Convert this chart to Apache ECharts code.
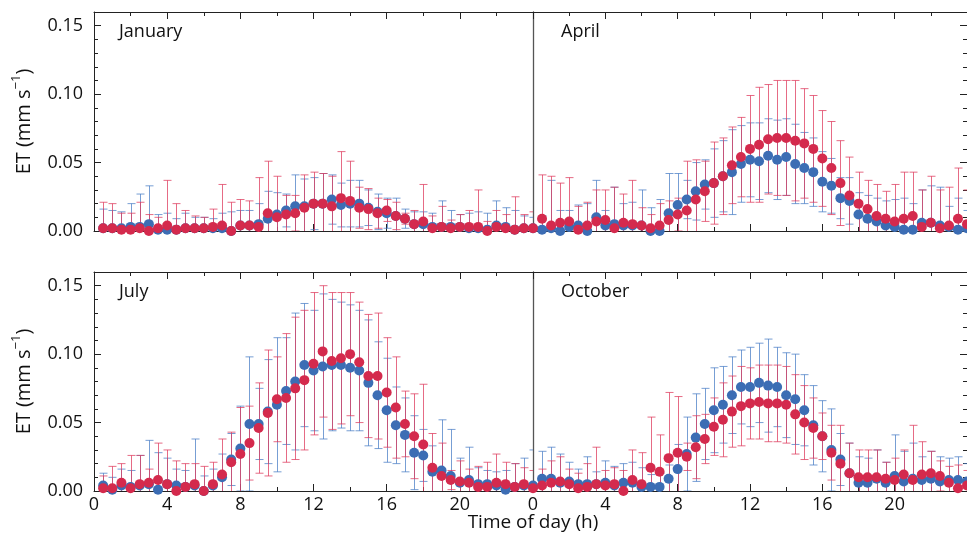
<!DOCTYPE html>
<html>
<head>
<meta charset="utf-8">
<script src="https://cdn.jsdelivr.net/npm/echarts@6/dist/echarts.min.js"></script>
<style>
  html, body { margin: 0; padding: 0; background: #fff; }
  #chart { width: 967px; height: 539px; }
</style>
</head>
<body>
<div id="chart"></div>
<script>
// Half-hourly time stamps (h)
const hours = [0.5, 1, 1.5, 2, 2.5, 3, 3.5, 4, 4.5, 5, 5.5, 6, 6.5, 7, 7.5, 8,
  8.5, 9, 9.5, 10, 10.5, 11, 11.5, 12, 12.5, 13, 13.5, 14, 14.5, 15, 15.5, 16,
  16.5, 17, 17.5, 18, 18.5, 19, 19.5, 20, 20.5, 21, 21.5, 22, 22.5, 23, 23.5, 24];

const xTicks = [0, 4, 8, 12, 16, 20];
const yTicks = [0.00, 0.05, 0.10, 0.15];

// January
const janBlueMean = [0.002,0.002,0.002,0.003,0.003,0.005,0.001,0.001,0.001,0.002,0.002,0.002,0.002,0.002,0.000,0.004,
  0.004,0.005,0.009,0.012,0.015,0.018,0.018,0.020,0.020,0.023,0.019,0.020,0.020,0.017,0.014,0.013,
  0.011,0.009,0.005,0.005,0.003,0.003,0.003,0.003,0.002,0.002,0.001,0.004,0.003,0.001,0.002,0.002];
const janBlueSd = [0.014,0.013,0.012,0.017,0.024,0.028,0.011,0.012,0.008,0.011,0.008,0.008,0.007,0.011,0.014,0.011,
  0.011,0.015,0.020,0.016,0.012,0.023,0.020,0.019,0.022,0.018,0.016,0.017,0.017,0.013,0.013,0.011,
  0.013,0.007,0.009,0.009,0.010,0.019,0.012,0.009,0.011,0.012,0.012,0.018,0.014,0.014,0.009,0.008];
const janRedMean = [0.002,0.002,0.001,0.001,0.002,0.000,0.002,0.004,0.001,0.002,0.002,0.002,0.003,0.004,0.000,0.004,
  0.004,0.003,0.013,0.010,0.012,0.013,0.017,0.020,0.020,0.018,0.024,0.022,0.017,0.016,0.013,0.015,
  0.011,0.009,0.005,0.007,0.002,0.003,0.002,0.003,0.003,0.003,0.000,0.003,0.002,0.001,0.002,0.002];
const janRedSd = [0.019,0.018,0.012,0.012,0.019,0.012,0.008,0.033,0.019,0.013,0.009,0.008,0.013,0.030,0.021,0.019,
  0.018,0.036,0.038,0.030,0.014,0.013,0.024,0.023,0.022,0.022,0.034,0.029,0.015,0.015,0.011,0.008,
  0.010,0.004,0.010,0.027,0.009,0.015,0.006,0.009,0.012,0.027,0.007,0.012,0.010,0.024,0.010,0.012];

// April
const aprBlueMean = [0.001,0.002,0.000,0.003,0.004,0.000,0.010,0.004,0.005,0.004,0.004,0.004,0.000,0.000,0.013,0.019,
  0.023,0.029,0.034,0.035,0.040,0.043,0.049,0.052,0.051,0.055,0.052,0.054,0.049,0.046,0.043,0.036,
  0.033,0.024,0.022,0.012,0.009,0.007,0.004,0.003,0.001,0.001,0.006,0.006,0.004,0.003,0.001,0.002];
const aprBlueSd = [0.010,0.035,0.015,0.012,0.015,0.020,0.027,0.011,0.027,0.016,0.017,0.026,0.017,0.023,0.029,0.023,
  0.014,0.021,0.018,0.025,0.026,0.031,0.028,0.027,0.028,0.027,0.029,0.028,0.029,0.026,0.025,0.022,
  0.020,0.015,0.017,0.016,0.017,0.017,0.018,0.020,0.023,0.019,0.024,0.027,0.028,0.015,0.023,0.013];
const aprRedMean = [0.009,0.004,0.006,0.007,0.001,0.004,0.007,0.008,0.002,0.006,0.005,0.004,0.002,0.004,0.008,0.012,
  0.015,0.023,0.029,0.035,0.040,0.048,0.054,0.060,0.063,0.067,0.068,0.068,0.066,0.064,0.060,0.053,
  0.046,0.035,0.026,0.020,0.016,0.011,0.009,0.007,0.009,0.011,0.003,0.006,0.002,0.004,0.009,0.005];
const aprRedSd = [0.032,0.036,0.029,0.032,0.017,0.017,0.023,0.022,0.030,0.021,0.032,0.013,0.010,0.016,0.014,0.012,
  0.036,0.029,0.022,0.030,0.028,0.028,0.029,0.039,0.042,0.040,0.042,0.042,0.044,0.040,0.039,0.035,
  0.034,0.031,0.028,0.023,0.021,0.023,0.020,0.027,0.034,0.032,0.027,0.034,0.028,0.028,0.037,0.025];

// July
const julBlueMean = [0.004,0.001,0.004,0.003,0.004,0.005,0.001,0.005,0.004,0.003,0.004,0.000,0.004,0.010,0.023,0.031,
  0.049,0.049,0.058,0.063,0.073,0.080,0.092,0.088,0.091,0.092,0.092,0.090,0.088,0.079,0.070,0.059,
  0.048,0.041,0.028,0.026,0.014,0.015,0.011,0.006,0.008,0.005,0.005,0.004,0.001,0.003,0.004,0.004];
const julBlueSd = [0.009,0.009,0.012,0.012,0.022,0.032,0.027,0.019,0.012,0.012,0.034,0.011,0.012,0.017,0.019,0.031,
  0.049,0.026,0.038,0.049,0.039,0.050,0.045,0.044,0.053,0.048,0.046,0.046,0.044,0.046,0.039,0.038,
  0.028,0.027,0.027,0.019,0.019,0.037,0.034,0.018,0.024,0.012,0.010,0.010,0.014,0.017,0.020,0.026];
const julRedMean = [0.002,0.002,0.006,0.002,0.005,0.006,0.008,0.005,0.000,0.003,0.005,0.000,0.005,0.012,0.021,0.027,
  0.035,0.046,0.057,0.067,0.068,0.075,0.081,0.093,0.102,0.095,0.097,0.100,0.094,0.084,0.084,0.072,
  0.061,0.049,0.040,0.034,0.017,0.011,0.008,0.007,0.006,0.003,0.003,0.006,0.005,0.003,0.005,0.002];
const julRedSd = [0.009,0.016,0.014,0.024,0.021,0.010,0.027,0.025,0.022,0.017,0.015,0.018,0.016,0.026,0.022,0.034,
  0.027,0.033,0.046,0.031,0.047,0.052,0.051,0.052,0.048,0.050,0.048,0.045,0.044,0.045,0.046,0.040,
  0.037,0.024,0.031,0.044,0.025,0.024,0.007,0.015,0.010,0.015,0.018,0.021,0.016,0.017,0.012,0.013];

// October
const octBlueMean = [0.009,0.009,0.006,0.007,0.005,0.005,0.005,0.006,0.004,0.006,0.006,0.003,0.003,0.003,0.009,0.016,
  0.027,0.039,0.049,0.059,0.063,0.070,0.076,0.076,0.079,0.077,0.076,0.070,0.067,0.059,0.048,0.040,
  0.030,0.023,0.013,0.006,0.006,0.009,0.006,0.011,0.007,0.009,0.008,0.009,0.007,0.008,0.008,0.007];
const octBlueSd = [0.020,0.023,0.021,0.014,0.011,0.020,0.009,0.016,0.014,0.014,0.015,0.014,0.009,0.010,0.010,0.018,
  0.027,0.032,0.026,0.031,0.028,0.028,0.027,0.029,0.029,0.034,0.029,0.031,0.033,0.026,0.029,0.026,
  0.030,0.019,0.022,0.019,0.018,0.021,0.015,0.030,0.022,0.026,0.017,0.020,0.018,0.016,0.017,0.013];
const octRedMean = [0.004,0.006,0.007,0.005,0.002,0.003,0.005,0.004,0.005,0.000,0.008,0.005,0.017,0.014,0.024,0.028,
  0.025,0.032,0.038,0.047,0.052,0.058,0.062,0.064,0.065,0.064,0.064,0.063,0.056,0.050,0.046,0.040,
  0.028,0.020,0.013,0.010,0.010,0.010,0.009,0.008,0.012,0.008,0.012,0.013,0.011,0.006,0.002,0.004];
const octRedSd = [0.012,0.016,0.018,0.011,0.011,0.017,0.027,0.011,0.012,0.015,0.022,0.023,0.037,0.027,0.048,0.041,
  0.010,0.023,0.018,0.021,0.027,0.026,0.029,0.026,0.027,0.028,0.028,0.028,0.029,0.027,0.022,0.017,
  0.020,0.028,0.022,0.020,0.020,0.020,0.012,0.016,0.018,0.040,0.024,0.016,0.011,0.012,0.017,0.011];

const months = ['January', 'April', 'July', 'October'];

const BLUE = '#3c6db4';
const RED = '#d42a4d';
const BLUE_BAR = 'rgba(74,126,198,0.75)';
const RED_BAR = 'rgba(222,58,92,0.75)';
const AXIS = '#222';
const FONT = '"Open Sans", "Noto Sans", sans-serif';

const panels = [
  { name: months[0], bm: janBlueMean, bs: janBlueSd, rm: janRedMean, rs: janRedSd, left: 94, top: 12, width: 439, isLeft: true, isBottom: false },
  { name: months[1], bm: aprBlueMean, bs: aprBlueSd, rm: aprRedMean, rs: aprRedSd, left: 533, top: 12, width: 440, isLeft: false, isBottom: false },
  { name: months[2], bm: julBlueMean, bs: julBlueSd, rm: julRedMean, rs: julRedSd, left: 94, top: 272, width: 439, isLeft: true, isBottom: true },
  { name: months[3], bm: octBlueMean, bs: octBlueSd, rm: octRedMean, rs: octRedSd, left: 533, top: 272, width: 440, isLeft: false, isBottom: true }
];

// Vertical error bar with caps at both ends
function errorBarItem(params, api) {
  const x = api.value(0);
  const pLo = api.coord([x, api.value(1)]);
  const pHi = api.coord([x, api.value(2)]);
  const cx = Math.round(pLo[0]) + 0.5;
  const half = 4;
  const style = { stroke: api.visual('color'), lineWidth: 1 };
  return {
    type: 'group',
    children: [
      { type: 'line', shape: { x1: cx, y1: pLo[1], x2: cx, y2: pHi[1] }, style },
      { type: 'line', shape: { x1: cx - half, y1: pHi[1], x2: cx + half, y2: pHi[1] }, style },
      { type: 'line', shape: { x1: cx - half, y1: pLo[1], x2: cx + half, y2: pLo[1] }, style }
    ]
  };
}

const grid = [], xAxis = [], yAxis = [], series = [], graphic = [];
const tickCommon = { show: true, inside: true, length: 7, lineStyle: { color: AXIS, width: 1 } };
const minorCommon = { show: true, length: 4, lineStyle: { color: AXIS, width: 1 } };

panels.forEach((p, i) => {
  grid.push({ left: p.left, top: p.top, width: p.width, height: 219, containLabel: false });

  // bottom axis
  xAxis.push({
    gridIndex: i, type: 'value', min: 0, max: 24, interval: 4, position: 'bottom',
    axisLine: { show: true, onZero: false, lineStyle: { color: AXIS, width: 1 } },
    axisTick: tickCommon,
    minorTick: Object.assign({ splitNumber: 2 }, minorCommon),
    splitLine: { show: false },
    axisLabel: {
      show: p.isBottom, showMaxLabel: false, margin: 5,
      fontSize: 18, color: '#111', fontFamily: FONT,
      formatter: v => (xTicks.indexOf(v) >= 0 ? String(v) : '')
    }
  });
  // top frame with ticks
  xAxis.push({
    gridIndex: i, type: 'value', min: 0, max: 24, interval: 4, position: 'top',
    axisLine: { show: true, onZero: false, lineStyle: { color: AXIS, width: 1 } },
    axisTick: tickCommon,
    minorTick: Object.assign({ splitNumber: 2 }, minorCommon),
    splitLine: { show: false },
    axisLabel: { show: false }
  });

  // left axis
  yAxis.push({
    gridIndex: i, type: 'value', min: 0, max: 0.16, interval: 0.05, position: 'left',
    axisLine: { show: true, onZero: false, lineStyle: { color: p.isLeft ? AXIS : '#555', width: p.isLeft ? 1 : 1.3 } },
    axisTick: Object.assign({}, tickCommon, { show: p.isLeft }),
    minorTick: Object.assign({ splitNumber: 5 }, minorCommon, { show: p.isLeft }),
    splitLine: { show: false },
    axisLabel: {
      show: p.isLeft, showMaxLabel: false, margin: 11,
      fontSize: 18, color: '#111', fontFamily: FONT,
      formatter: v => (yTicks.some(t => Math.abs(t - v) < 1e-9) ? v.toFixed(2) : '')
    },
    name: p.isLeft ? '{a|ET (mm s}{s|−1}{a|)}' : '',
    nameLocation: 'middle', nameRotate: 90, nameGap: 60,
    nameTextStyle: {
      rich: {
        a: { fontSize: 20, color: '#111', fontFamily: FONT, lineHeight: 24, verticalAlign: 'bottom' },
        s: { fontSize: 13, color: '#111', fontFamily: FONT, lineHeight: 24, verticalAlign: 'top' }
      }
    }
  });
  // right frame (ticks only on the outer panels)
  yAxis.push({
    gridIndex: i, type: 'value', min: 0, max: 0.16, interval: 0.05, position: 'right',
    axisLine: { show: !p.isLeft, onZero: false, lineStyle: { color: AXIS, width: 1 } },
    axisTick: Object.assign({}, tickCommon, { show: !p.isLeft }),
    minorTick: Object.assign({ splitNumber: 5 }, minorCommon, { show: !p.isLeft }),
    splitLine: { show: false },
    axisLabel: { show: false }
  });

  const xb = i * 2, yb = i * 2;
  const blueBars = hours.map((h, k) => [h, p.bm[k] - p.bs[k], p.bm[k] + p.bs[k]]);
  const redBars = hours.map((h, k) => [h, p.rm[k] - p.rs[k], p.rm[k] + p.rs[k]]);

  series.push({
    type: 'custom', name: p.name + ' blue sd', xAxisIndex: xb, yAxisIndex: yb,
    renderItem: errorBarItem, itemStyle: { color: BLUE_BAR },
    encode: { x: 0, y: [1, 2] }, data: blueBars, clip: true, z: 1, silent: true
  });
  series.push({
    type: 'custom', name: p.name + ' red sd', xAxisIndex: xb, yAxisIndex: yb,
    renderItem: errorBarItem, itemStyle: { color: RED_BAR },
    encode: { x: 0, y: [1, 2] }, data: redBars, clip: true, z: 2, silent: true
  });
  series.push({
    type: 'scatter', name: p.name + ' blue', xAxisIndex: xb, yAxisIndex: yb,
    symbolSize: 10, itemStyle: { color: BLUE, opacity: 1 },
    data: hours.map((h, k) => [h, p.bm[k]]), z: 3, silent: true
  });
  series.push({
    type: 'scatter', name: p.name + ' red', xAxisIndex: xb, yAxisIndex: yb,
    symbolSize: 10, itemStyle: { color: RED, opacity: 1 },
    data: hours.map((h, k) => [h, p.rm[k]]), z: 4, silent: true
  });

  graphic.push({
    type: 'text', left: p.left + (p.isLeft ? 25 : 28), top: p.top + 11,
    style: { text: p.name, fontSize: 18, fill: '#111', fontFamily: FONT }
  });
});

graphic.push({
  type: 'text', x: 533, y: 523,
  style: { text: 'Time of day (h)', fontSize: 19, fill: '#111', fontFamily: FONT, align: 'center', verticalAlign: 'middle' }
});

const chart = echarts.init(document.getElementById('chart'), null, { renderer: 'canvas' });
chart.setOption({
  animation: false,
  backgroundColor: '#fff',
  grid, xAxis, yAxis, series, graphic
});
</script>
</body>
</html>
